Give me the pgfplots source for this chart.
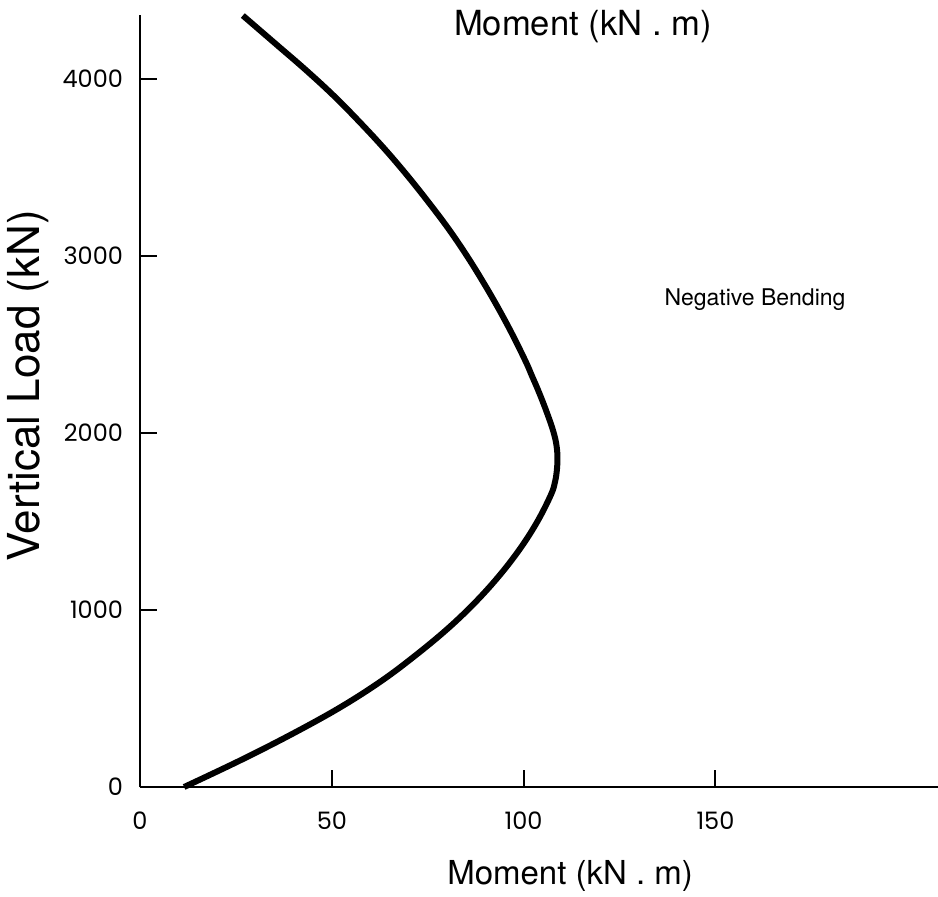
\documentclass[border=0pt]{standalone}
\usepackage{pgfplots}
\pgfplotsset{compat=1.18}
\usepackage{fontspec}
\setmainfont{TeX Gyre Heros}
\newfontfamily\tickfont{Poppins}
\begin{document}
\begin{tikzpicture}
\useasboundingbox (-70pt,-54.5pt) rectangle (399pt,393.5pt);
\begin{axis}[
  at={(0,0)}, anchor=south west,
  scale only axis,
  width=399pt, height=386pt,
  xmin=0, xmax=208, ymin=0, ymax=4360,
  axis x line=bottom, axis y line=left,
  axis line style={-, line width=1.3pt},
  xtick={0,50,100,150}, ytick={0,1000,2000,3000,4000},
  tick style={line width=1pt, black},
  major tick length=8.5pt,
  tick align=inside,
  /pgf/number format/assume math mode=true,
  /pgf/number format/1000 sep={},
  ticklabel style={font=\tickfont\fontsize{12}{14}\selectfont},
  xticklabel style={yshift=-9pt},
  yticklabel style={xshift=-5pt},
  xlabel={Moment (kN . m)},
  xlabel style={at={(axis description cs:0.539,-0.115)}, anchor=center, font=\fontsize{16.5}{19}\selectfont},
  ylabel={Vertical Load (kN)},
  ylabel style={at={(axis description cs:-0.1404,0.52)}, anchor=center, font=\fontsize{22}{26}\selectfont},
  clip=false,
]
\addplot[black, line width=3pt, smooth, tension=0.6] coordinates {
(11.5,0) (26.1,150) (39.7,300) (52.2,450) (63.0,600) (72.2,750) (80.5,900) (87.7,1050) (93.9,1200) (99.2,1350) (103.6,1500) (107.1,1650) (108.2,1725) (108.7,1800) (108.8,1875) (108.4,1950) (107.5,2025) (106.3,2100) (105.0,2175) (103.6,2250) (102.1,2325) (100.6,2400) (97.2,2550) (93.5,2700) (89.5,2850) (85.2,3000) (80.5,3150) (75.3,3300) (69.8,3450) (63.9,3600) (57.5,3750) (50.7,3900) (43.2,4050) (35.2,4200) (26.8,4357)
};
\node[font=\fontsize{11.5}{14}\selectfont] at (axis cs:160.3,2751) {Negative Bending};
\node[anchor=north, font=\fontsize{17.3}{20}\selectfont] at (axis description cs:0.555,1.0155) {Moment (kN . m)};
\end{axis}
\end{tikzpicture}
\end{document}
